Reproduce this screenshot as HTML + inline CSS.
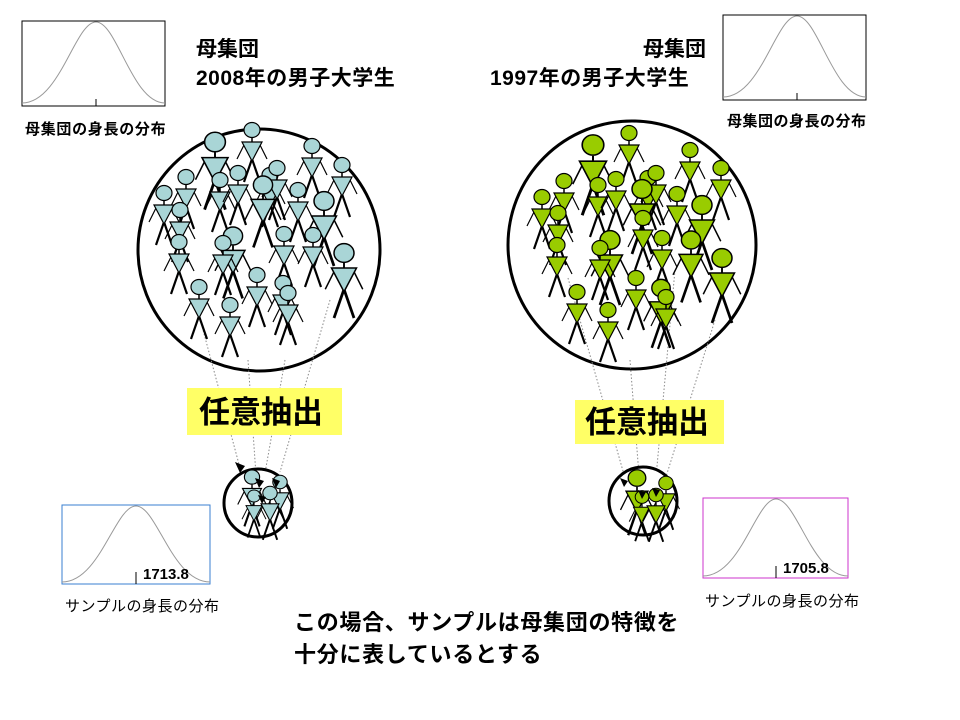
<!DOCTYPE html>
<html><head><meta charset="utf-8"><style>
body{margin:0;background:#fff;width:960px;height:720px;overflow:hidden;position:relative;font-family:"Liberation Sans","Noto Sans CJK JP",sans-serif;}
.t{position:absolute;font-weight:bold;color:#000;white-space:nowrap;line-height:1}
</style></head><body>
<svg width="960" height="720" style="position:absolute;left:0;top:0">
<defs>
<g id="pb">
<line x1="0" y1="8" x2="0" y2="12" stroke="#000" stroke-width="1.5"/>
<line x1="-7" y1="13" x2="-15" y2="29" stroke="#000" stroke-width="1.2"/>
<line x1="7" y1="13" x2="15" y2="29" stroke="#000" stroke-width="1.2"/>
<line x1="0" y1="29" x2="-8" y2="52" stroke="#000" stroke-width="2.2"/>
<line x1="0" y1="29" x2="8" y2="52" stroke="#000" stroke-width="2.2"/>
<polygon points="-10,12 10,12 0,31" fill="#a9d5d6" stroke="#000" stroke-width="1.2"/>
<ellipse cx="0" cy="0" rx="8" ry="7.5" fill="#a9d5d6" stroke="#000" stroke-width="1.2"/>
</g>
<g id="pg">
<line x1="0" y1="8" x2="0" y2="12" stroke="#000" stroke-width="1.5"/>
<line x1="-7" y1="13" x2="-15" y2="29" stroke="#000" stroke-width="1.2"/>
<line x1="7" y1="13" x2="15" y2="29" stroke="#000" stroke-width="1.2"/>
<line x1="0" y1="29" x2="-8" y2="52" stroke="#000" stroke-width="2.2"/>
<line x1="0" y1="29" x2="8" y2="52" stroke="#000" stroke-width="2.2"/>
<polygon points="-10,12 10,12 0,31" fill="#99cc00" stroke="#000" stroke-width="1.2"/>
<ellipse cx="0" cy="0" rx="8" ry="7.5" fill="#99cc00" stroke="#000" stroke-width="1.2"/>
</g>
</defs>
<rect x="22" y="21" width="143" height="85" fill="#fff" stroke="#000" stroke-width="1"/>
<path d="M22,103 C60,103 75,22 96,22 C117,22 132,103 165,103" fill="none" stroke="#999" stroke-width="1"/>
<line x1="96" y1="99" x2="96" y2="106" stroke="#000"/>
<rect x="723" y="15" width="143" height="85" fill="#fff" stroke="#000" stroke-width="1"/>
<path d="M723,97 C761,97 776,16 797,16 C818,16 833,97 866,97" fill="none" stroke="#999" stroke-width="1"/>
<line x1="797" y1="93" x2="797" y2="100" stroke="#000"/>
<rect x="62" y="505" width="148" height="79" fill="#fff" stroke="#3a7fd0" stroke-width="1"/>
<path d="M62,582 C100,582 115,506 136,506 C157,506 172,582 210,582" fill="none" stroke="#999" stroke-width="1"/>
<line x1="136" y1="572" x2="136" y2="584" stroke="#000"/>
<rect x="703" y="498" width="145" height="80" fill="#fff" stroke="#cc33cc" stroke-width="1"/>
<path d="M703,576 C741,576 756,499 776,499 C797,499 812,576 848,576" fill="none" stroke="#999" stroke-width="1"/>
<line x1="776" y1="566" x2="776" y2="578" stroke="#000"/>
<circle cx="259" cy="250" r="121" fill="#fff" stroke="#000" stroke-width="3"/>
<circle cx="632" cy="245" r="124" fill="#fff" stroke="#000" stroke-width="3"/>
<g stroke="#888" stroke-width="1" stroke-dasharray="1.5,2" fill="none">
<line x1="195" y1="300" x2="240" y2="468"/>
<line x1="248" y1="360" x2="256" y2="475"/>
<line x1="285" y1="360" x2="262" y2="490"/>
<line x1="330" y1="300" x2="280" y2="472"/>
<line x1="568" y1="278" x2="625" y2="478"/>
<line x1="630" y1="360" x2="640" y2="488"/>
<line x1="675" y1="270" x2="655" y2="488"/>
<line x1="715" y1="320" x2="665" y2="480"/>
</g>
<g>
<use href="#pb" transform="translate(215,142) scale(1.3)"/>
<use href="#pb" transform="translate(252,130)"/>
<use href="#pb" transform="translate(312,146)"/>
<use href="#pb" transform="translate(342,165)"/>
<use href="#pb" transform="translate(186,177)"/>
<use href="#pb" transform="translate(164,193)"/>
<use href="#pb" transform="translate(220,180)"/>
<use href="#pb" transform="translate(238,173)"/>
<use href="#pb" transform="translate(270,175)"/>
<use href="#pb" transform="translate(277,168)"/>
<use href="#pb" transform="translate(263,185) scale(1.2)"/>
<use href="#pb" transform="translate(298,190)"/>
<use href="#pb" transform="translate(324,201) scale(1.25)"/>
<use href="#pb" transform="translate(180,210)"/>
<use href="#pb" transform="translate(179,242)"/>
<use href="#pb" transform="translate(233,236) scale(1.2)"/>
<use href="#pb" transform="translate(223,243)"/>
<use href="#pb" transform="translate(284,234)"/>
<use href="#pb" transform="translate(313,235)"/>
<use href="#pb" transform="translate(344,253) scale(1.25)"/>
<use href="#pb" transform="translate(199,287)"/>
<use href="#pb" transform="translate(257,275)"/>
<use href="#pb" transform="translate(283,283)"/>
<use href="#pb" transform="translate(288,293)"/>
<use href="#pb" transform="translate(230,305)"/>
</g>
<g>
<use href="#pg" transform="translate(593,145) scale(1.35)"/>
<use href="#pg" transform="translate(629,133)"/>
<use href="#pg" transform="translate(690,150)"/>
<use href="#pg" transform="translate(721,168)"/>
<use href="#pg" transform="translate(564,181)"/>
<use href="#pg" transform="translate(542,197)"/>
<use href="#pg" transform="translate(598,185)"/>
<use href="#pg" transform="translate(616,179)"/>
<use href="#pg" transform="translate(648,178)"/>
<use href="#pg" transform="translate(656,173)"/>
<use href="#pg" transform="translate(642,189) scale(1.25)"/>
<use href="#pg" transform="translate(677,194)"/>
<use href="#pg" transform="translate(702,205) scale(1.25)"/>
<use href="#pg" transform="translate(558,213)"/>
<use href="#pg" transform="translate(557,245)"/>
<use href="#pg" transform="translate(610,240) scale(1.25)"/>
<use href="#pg" transform="translate(600,248)"/>
<use href="#pg" transform="translate(643,218)"/>
<use href="#pg" transform="translate(662,238)"/>
<use href="#pg" transform="translate(691,240) scale(1.2)"/>
<use href="#pg" transform="translate(722,258) scale(1.25)"/>
<use href="#pg" transform="translate(577,292)"/>
<use href="#pg" transform="translate(636,278)"/>
<use href="#pg" transform="translate(661,288) scale(1.15)"/>
<use href="#pg" transform="translate(666,297)"/>
<use href="#pg" transform="translate(608,310)"/>
</g>
<circle cx="258" cy="503" r="34" fill="#fff" stroke="#000" stroke-width="3"/>
<use href="#pb" transform="translate(252,477) scale(0.95)"/>
<use href="#pb" transform="translate(280,482) scale(0.9)"/>
<use href="#pb" transform="translate(254,496) scale(0.8)"/>
<use href="#pb" transform="translate(270,493) scale(0.9)"/>
<polygon points="235,462 245,466 240,473" fill="#000"/>
<polygon points="255,478 264,481 259,488" fill="#000"/>
<polygon points="258,495 266,497 262,504" fill="#000"/>
<polygon points="272,478 280,481 276,488" fill="#000"/>
<circle cx="643" cy="501" r="34" fill="#fff" stroke="#000" stroke-width="3"/>
<use href="#pg" transform="translate(637,478) scale(1.1)"/>
<use href="#pg" transform="translate(666,483) scale(0.9)"/>
<use href="#pg" transform="translate(642,497) scale(0.85)"/>
<use href="#pg" transform="translate(656,495) scale(0.9)"/>
<polygon points="620,478 628,481 624,487" fill="#000"/>
<polygon points="638,490 646,492 642,499" fill="#000"/>
<polygon points="652,488 660,490 656,497" fill="#000"/>
<rect x="187" y="388" width="155" height="47" fill="#ffff66"/>
<rect x="575" y="400" width="149" height="44" fill="#ffff66"/>
</svg>
<div class="t" style="left:196px;top:39px;font-size:21px">母集団</div>
<div class="t" style="left:196px;top:68px;font-size:21px;letter-spacing:0.5px">2008年の男子大学生</div>
<div class="t" style="left:643px;top:39px;font-size:21px">母集団</div>
<div class="t" style="left:490px;top:68px;font-size:21px;letter-spacing:0.5px">1997年の男子大学生</div>
<div class="t" style="left:25px;top:122px;font-size:15px;letter-spacing:0.7px">母集団の身長の分布</div>
<div class="t" style="left:727px;top:114px;font-size:15px;letter-spacing:0.5px">母集団の身長の分布</div>
<div class="t" style="left:199px;top:397px;font-size:31px">任意抽出</div>
<div class="t" style="left:585px;top:407px;font-size:31px">任意抽出</div>
<div class="t" style="left:143px;top:567px;font-size:15px">1713.8</div>
<div class="t" style="left:783px;top:561px;font-size:15px">1705.8</div>
<div class="t" style="left:65px;top:599px;font-size:15px;font-weight:normal;letter-spacing:0.5px">サンプルの身長の分布</div>
<div class="t" style="left:705px;top:594px;font-size:15px;font-weight:normal;letter-spacing:0.5px">サンプルの身長の分布</div>
<div class="t" style="left:294px;top:612px;font-size:22px;letter-spacing:0.7px">この場合、サンプルは母集団の特徴を</div>
<div class="t" style="left:294px;top:644px;font-size:22px;letter-spacing:0.7px">十分に表しているとする</div>
</body></html>
